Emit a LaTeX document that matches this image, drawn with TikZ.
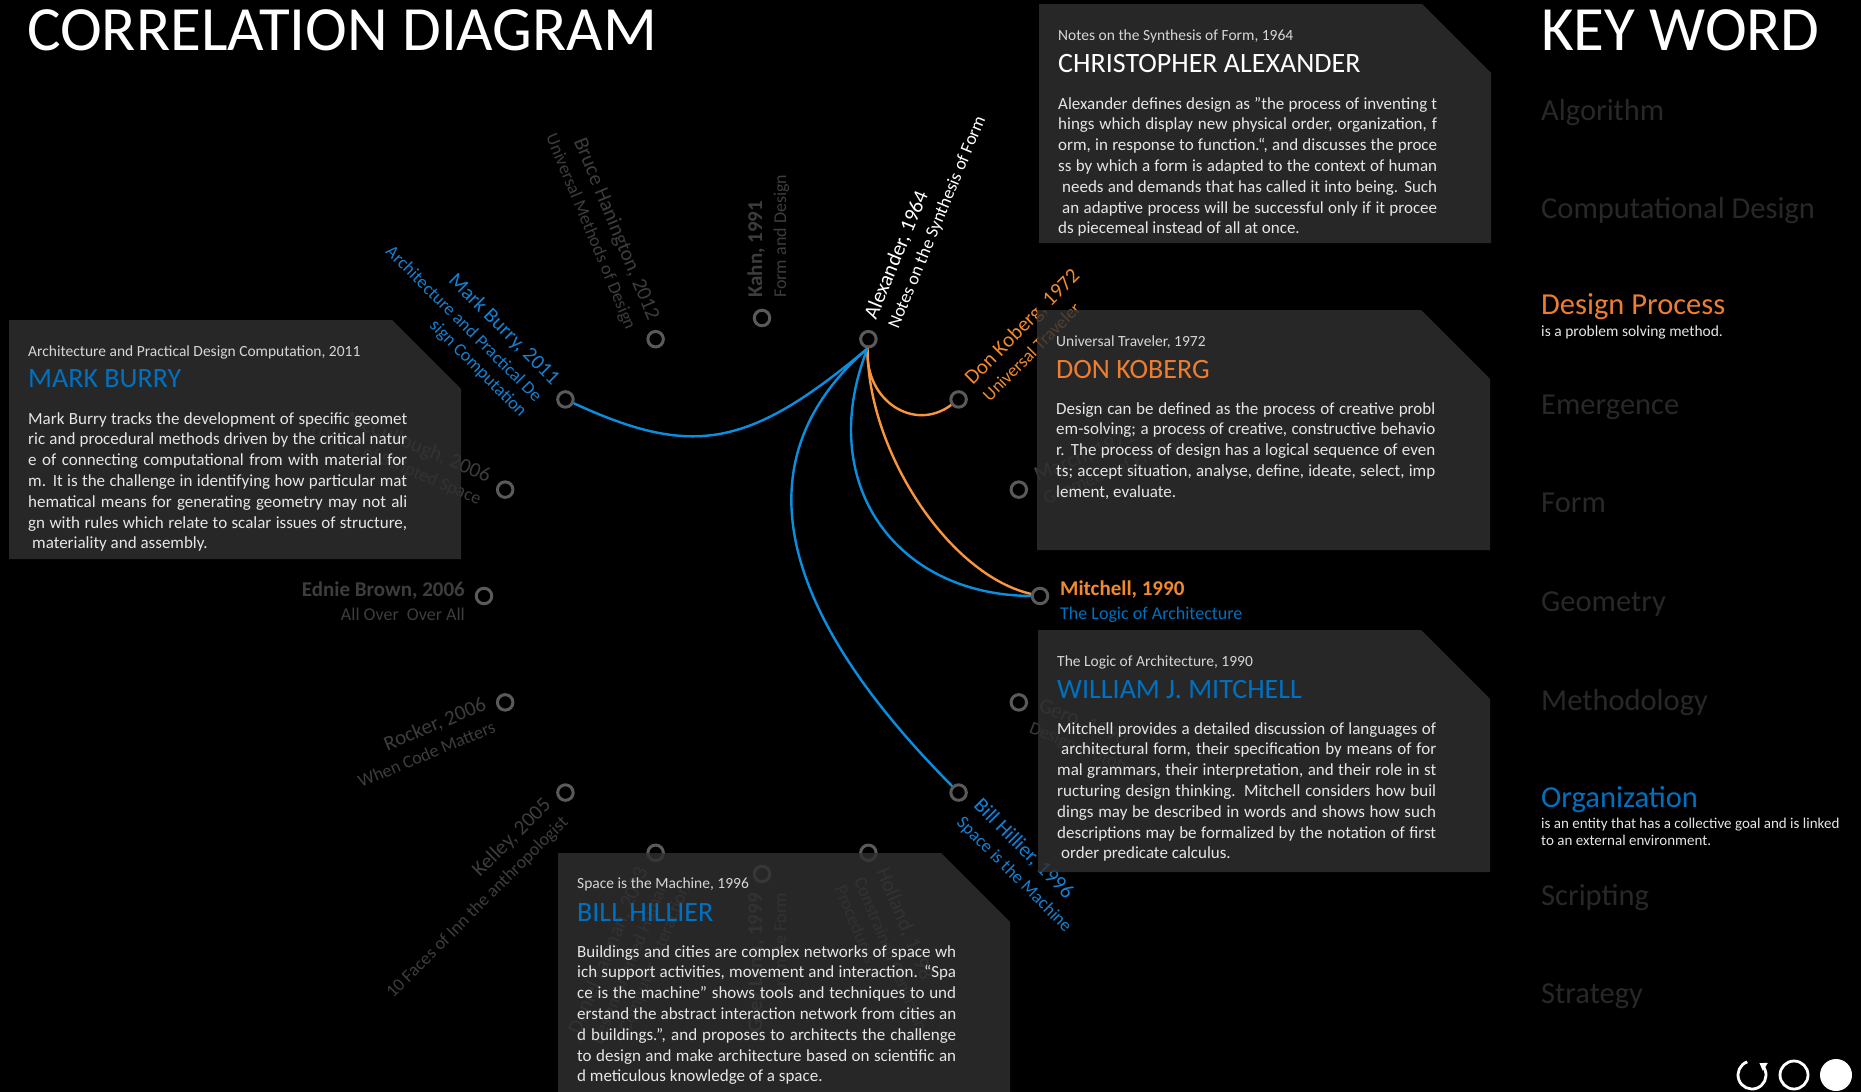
\documentclass[tikz,border=0pt]{standalone}
\usepackage{fontspec}
\setmainfont{Carlito}
\usetikzlibrary{calc,arrows.meta}
\definecolor{boxfill}{HTML}{303030}
\definecolor{faint}{HTML}{3D3D3D}
\definecolor{kwfaint}{HTML}{282828}
\definecolor{org}{HTML}{ED7D31}
\definecolor{orglab}{HTML}{F08A30}
\definecolor{blu}{HTML}{0070C0}
\definecolor{blulab}{HTML}{1680D2}
\definecolor{orgline}{HTML}{F7963C}
\definecolor{bluline}{HTML}{0A8FE0}
\definecolor{ringc}{HTML}{5A5A5A}
\definecolor{bodytext}{HTML}{E6E6E6}
\definecolor{subtext}{HTML}{D6D6D6}
\newcommand\mynamef{\fontsize{21}{25}\selectfont}
\newcommand\mynamebf{\fontsize{21}{25}\selectfont\bfseries}
\newcommand\mysubf{\fontsize{18}{21}\selectfont}
\newcommand\mybodyf{\fontsize{17}{20.8}\selectfont}
\newcommand\jl[1]{\makebox[379pt][s]{#1}}
% right-side label: node, angle, colour, name font, name, subtitle
\newcommand\Rlab[6]{%
  \node[rotate=#2, anchor=base west, text=#3, font=#4, inner sep=0pt] (#1-n) at ($(#1)+(#2:20)$) {#5};
  \node[rotate=#2, anchor=base west, text=#3, font=\mysubf, inner sep=0pt] (#1-s) at ($(#1)+(#2:20)+(#2-90:24)$) {#6};}
% left-side label
\newcommand\Llab[6]{%
  \node[rotate=#2-180, anchor=base east, text=#3, font=#4, inner sep=0pt] (#1-n) at ($(#1)+(#2:19)$) {#5};
  \node[rotate=#2-180, anchor=base east, text=#3, font=\mysubf, inner sep=0pt] (#1-s) at ($(#1)+(#2:19)+(#2+90:24)$) {#6};}
\begin{document}
\begin{tikzpicture}[x=1pt,y=1pt,
  ring/.style={circle, draw=ringc, line width=3pt, minimum size=15.5pt, inner sep=0pt},
  conn/.style={line width=2.4pt},
  kw/.style={anchor=base west, inner sep=0pt, font=\fontsize{30.5}{36}\selectfont, text=kwfaint},
  kwdesc/.style={anchor=base west, inner sep=0pt, font=\fontsize{15}{17.5}\selectfont, text=bodytext},
  bigtitle/.style={anchor=base west, inner sep=0pt, font=\fontsize{63}{70}\selectfont, text=white},
  boxsub/.style={anchor=base west, inner sep=0pt, font=\fontsize{15.5}{18}\selectfont, text=subtext},
  boxtitle/.style={anchor=base west, inner sep=0pt, font=\fontsize{28}{32}\selectfont},
  boxbody/.style={anchor=base west, inner sep=0pt, text=bodytext},
  panel/.style={fill=boxfill, fill opacity=0.83}]
\fill[black] (0,0) rectangle (1861,-1092);
\useasboundingbox (0,0) rectangle (1861,-1092);

% titles
\node[bigtitle] (title) at (27,-50) {CORRELATION DIAGRAM};
\node[bigtitle] (keyword) at (1541,-50) {KEY WORD};

% key words
\node[kw] (kw1) at (1541,-120) {Algorithm};
\node[kw] (kw2) at (1541,-218) {Computational Design};
\node[kw, text=org] (kw3) at (1541,-314) {Design Process};
\node[kwdesc, font=\fontsize{15.5}{18}\selectfont] (kw3d) at (1541,-336) {is a problem solving method.};
\node[kw] (kw4) at (1541,-414) {Emergence};
\node[kw] (kw5) at (1541,-512) {Form};
\node[kw] (kw6) at (1541,-611) {Geometry};
\node[kw] (kw7) at (1541,-710) {Methodology};
\node[kw, text=blu] (kw8) at (1541,-807) {Organization};
\node[kwdesc] (kw8d) at (1541,-828) {\parbox[t]{320pt}{\fontsize{15}{17.5}\selectfont is an entity that has a collective goal and is linked\\to an external environment.}};
\node[kw] (kw9) at (1541,-905) {Scripting};
\node[kw] (kw10) at (1541,-1003) {Strategy};

% ring nodes
\coordinate (ctr) at (762,-596);
\node[ring] (kahn) at ($(ctr)+(90:278)$) {};
\node[ring] (alex) at ($(ctr)+(67.5:278)$) {};
\node[ring] (koberg) at ($(ctr)+(45:278)$) {};
\node[ring] (march) at ($(ctr)+(22.5:278)$) {};
\node[ring] (mitchell) at ($(ctr)+(0:278)$) {};
\node[ring] (gero) at ($(ctr)+(-22.5:278)$) {};
\node[ring] (hillier) at ($(ctr)+(-45:278)$) {};
\node[ring] (holland) at ($(ctr)+(-67.5:278)$) {};
\node[ring] (lynn) at ($(ctr)+(-90:278)$) {};
\node[ring] (fallman) at ($(ctr)+(-112.5:278)$) {};
\node[ring] (kelley) at ($(ctr)+(-135:278)$) {};
\node[ring] (rocker) at ($(ctr)+(-157.5:278)$) {};
\node[ring] (ednie) at ($(ctr)+(180:278)$) {};
\node[ring] (mccull) at ($(ctr)+(157.5:278)$) {};
\node[ring] (burry) at ($(ctr)+(135:278)$) {};
\node[ring] (bruce) at ($(ctr)+(112.5:278)$) {};

% connectors
\draw[conn, bluline] (alex.265) .. controls +(-118,-99) and +(128,-59) .. (burry);
\draw[conn, orgline] (alex.265) .. controls +(-3,-53) and +(-44,-33) .. (koberg);
\draw[conn, orgline] (alex.265) .. controls +(0,-103) and +(-91,21) .. (mitchell);
\draw[conn, bluline] (alex.265) .. controls +(-53,-133) and +(-146,1) .. (mitchell);
\draw[conn, bluline] (alex.265) .. controls +(-141,-122) and +(-162,163) .. (hillier);

% labels
\Rlab{kahn}{90}{faint}{\mynamebf}{Kahn, 1991}{Form and Design}
\Rlab{alex}{67.5}{white}{\mynamef}{Alexander, 1964}{Notes on the Synthesis of Form}
\Rlab{koberg}{45}{orglab}{\mynamef}{Don Koberg, 1972}{Universal Traveler}
\Rlab{march}{22.5}{faint}{\mynamef}{March, 1971}{Geometry of Environment}
\node[anchor=base west, text=orglab, font=\mynamebf, inner sep=0pt] (mitchell-n) at ($(mitchell)+(20,1)$) {Mitchell, 1990};
\node[anchor=base west, text=blu, font=\mysubf, inner sep=0pt] (mitchell-s) at ($(mitchell)+(20,-23)$) {The Logic of Architecture};
\Rlab{gero}{-22.5}{faint}{\mynamef}{Gero, 1990}{Design Prototypes}
\Rlab{hillier}{-45}{blulab}{\mynamef}{Bill Hillier, 1996}{Space is the Machine}
\Rlab{holland}{-67.5}{faint}{\mynamef}{Holland, 1998}{Constrained Generating}
\node[rotate=-67.5, anchor=base west, text=faint, font=\mysubf, inner sep=0pt] (holland-s2) at ($(holland)+(-67.5:20)+(-157.5:45)$) {Procedures};
\Llab{lynn}{-90}{faint}{\mynamebf}{Greg Lynn, 1999}{Animate Form}
\Llab{fallman}{-112.5}{faint}{\mynamef}{Daniel Fallman, 2003}{Design-oriented Human-}
\node[rotate=67.5, anchor=base east, text=faint, font=\mysubf, inner sep=0pt] (fallman-s2) at ($(fallman)+(-112.5:19)+(-22.5:45)$) {Computer Interaction};
\Llab{kelley}{-135}{faint}{\mynamef}{Kelley, 2005}{10 Faces of Inn the anthropologist}
\Llab{rocker}{-157.5}{faint}{\mynamef}{Rocker, 2006}{When Code Matters}
\Llab{ednie}{180}{faint}{\mynamebf}{Ednie Brown, 2006}{All Over\ \ Over All}
\Llab{mccull}{157.5}{faint}{\mynamef}{McCullough, 2006}{20 Years of Scripted Space}
\Llab{burry}{135}{blulab}{\mynamef}{Mark Burry, 2011}{Architecture and Practical De}
\node[rotate=-45, anchor=base east, text=blulab, font=\mysubf, inner sep=0pt] (burry-s2) at ($(burry)+(135:19)+(225:45)$) {sign Computation};
\Llab{bruce}{112.5}{faint}{\mynamef}{Bruce Hanington, 2012}{Universal Methods of Design}

% panels
\fill[panel] (1039,-4) -- (1422,-4) -- (1491,-73) -- (1491,-243) -- (1039,-243) -- cycle;
\fill[panel] (1037,-310) -- (1421,-310) -- (1490,-379) -- (1490,-550) -- (1037,-550) -- cycle;
\fill[panel] (1038,-630) -- (1421,-630) -- (1490,-699) -- (1490,-872) -- (1038,-872) -- cycle;
\fill[panel] (9,-320) -- (392,-320) -- (461,-389) -- (461,-559) -- (9,-559) -- cycle;
\fill[panel] (558,-853) -- (941,-853) -- (1010,-922) -- (1010,-1092) -- (558,-1092) -- cycle;

% panel: Alexander
\node[boxsub] (alex-bs) at (1058,-40.5) {Notes on the Synthesis of Form, 1964};
\node[boxtitle, text=white] (alex-bt) at (1058,-72.5) {CHRISTOPHER ALEXANDER};
\node[boxbody] (alex-bb) at (1058,-109) {\parbox[t]{420pt}{\mybodyf
\jl{Alexander defines design as "the process of inventing t}\\
\jl{hings which display new physical order, organization, f}\\
\jl{orm, in response to function.“, and discusses the proce}\\
\jl{ss by which a form is adapted to the context of human}\\
\jl{\hspace*{4pt}needs and demands that has called it into being. Such}\\
\jl{\hspace*{4pt}an adaptive process will be successful only if it procee}\\
ds piecemeal instead of all at once.}};

% panel: Koberg
\node[boxsub] (kob-bs) at (1056,-346) {Universal Traveler, 1972};
\node[boxtitle, text=org] (kob-bt) at (1056,-378) {DON KOBERG};
\node[boxbody] (kob-bb) at (1056,-414) {\parbox[t]{420pt}{\mybodyf
\jl{Design can be defined as the process of creative probl}\\
\jl{em-solving; a process of creative, constructive behavio}\\
\jl{r. The process of design has a logical sequence of even}\\
\jl{ts; accept situation, analyse, define, ideate, select, imp}\\
lement, evaluate.}};

% panel: Mitchell
\node[boxsub] (mit-bs) at (1057,-666) {The Logic of Architecture, 1990};
\node[boxtitle, text=blu] (mit-bt) at (1057,-698) {WILLIAM J. MITCHELL};
\node[boxbody] (mit-bb) at (1057,-734) {\parbox[t]{420pt}{\mybodyf
\jl{Mitchell provides a detailed discussion of languages of}\\
\jl{\hspace*{4pt}architectural form, their specification by means of for}\\
\jl{mal grammars, their interpretation, and their role in st}\\
\jl{ructuring design thinking. Mitchell considers how buil}\\
\jl{dings may be described in words and shows how such}\\
\jl{descriptions may be formalized by the notation of first}\\
\hspace*{4pt}order predicate calculus.}};

% panel: Burry
\node[boxsub] (bur-bs) at (28,-356) {Architecture and Practical Design Computation, 2011};
\node[boxtitle, text=blu] (bur-bt) at (28,-387.5) {MARK BURRY};
\node[boxbody] (bur-bb) at (28,-424) {\parbox[t]{420pt}{\mybodyf
\jl{Mark Burry tracks the development of specific geomet}\\
\jl{ric and procedural methods driven by the critical natur}\\
\jl{e of connecting computational from with material for}\\
\jl{m. It is the challenge in identifying how particular mat}\\
\jl{hematical means for generating geometry may not ali}\\
\jl{gn with rules which relate to scalar issues of structure,}\\
\hspace*{4pt}materiality and assembly.}};

% panel: Hillier
\node[boxsub] (hil-bs) at (577,-888) {Space is the Machine, 1996};
\node[boxtitle, text=blu] (hil-bt) at (577,-921) {BILL HILLIER};
\node[boxbody] (hil-bb) at (577,-957) {\parbox[t]{420pt}{\mybodyf
\jl{Buildings and cities are complex networks of space wh}\\
\jl{ich support activities, movement and interaction. “Spa}\\
\jl{ce is the machine” shows tools and techniques to und}\\
\jl{erstand the abstract interaction network from cities an}\\
\jl{d buildings.”, and proposes to architects the challenge}\\
\jl{to design and make architecture based on scientific an}\\
d meticulous knowledge of a space.}};

% icons
\coordinate (ico1) at (1752,-1075);
\draw[white, line width=2.8pt, -{Triangle[length=7pt,width=9pt]}] ($(ico1)+(110:14)$) arc[start angle=110, end angle=418, radius=14];
\node[circle, draw=white, line width=2.8pt, minimum size=28pt, inner sep=0pt] (ico2) at (1794,-1075) {};
\node[circle, fill=white, minimum size=32pt, inner sep=0pt] (ico3) at (1836,-1075) {};
\end{tikzpicture}
\end{document}
